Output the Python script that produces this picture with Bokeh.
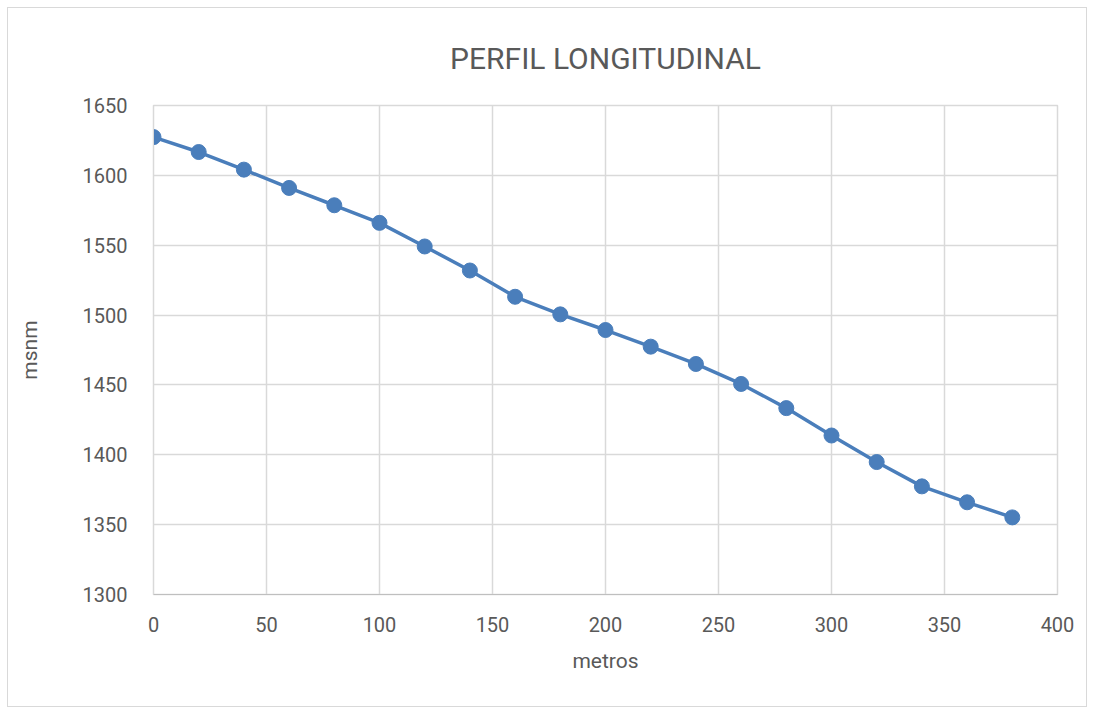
from bokeh.plotting import figure
from bokeh.embed import file_html
from bokeh.resources import INLINE
from bokeh.models import Range1d, FixedTicker, Title

distancia = [0, 20, 40, 60, 80, 100, 120, 140, 160, 180, 200, 220, 240, 260, 280, 300, 320, 340, 360, 380]
msnm = [1627.4, 1616.7, 1604.1, 1591.0, 1578.6, 1566.0, 1549.1, 1531.9, 1513.1, 1500.5,
        1489.3, 1477.4, 1465.0, 1450.7, 1433.4, 1413.8, 1394.8, 1377.4, 1366.0, 1355.2]
x_ticks = [0, 50, 100, 150, 200, 250, 300, 350, 400]
y_ticks = [1300, 1350, 1400, 1450, 1500, 1550, 1600, 1650]

FONT = "Roboto"
TXT = "#595959"

p = figure(width=1080, height=700, output_backend="svg", toolbar_location=None,
           x_range=Range1d(0, 400), y_range=Range1d(1300, 1650),
           min_border_left=145, min_border_right=31, min_border_top=97, min_border_bottom=114)

p.styles = {"border": "1px solid #d9d9d9", "margin": "7px 0 0 7px"}

t = Title(text="PERFIL LONGITUDINAL", align="center", text_font=FONT, text_font_size="30px",
          text_font_style="normal", text_color=TXT, standoff=60)
p.add_layout(t, "above")

p.xaxis.ticker = FixedTicker(ticks=x_ticks)
p.yaxis.ticker = FixedTicker(ticks=y_ticks)
for ax in (p.xaxis[0], p.yaxis[0]):
    ax.major_tick_line_color = None
    ax.minor_tick_line_color = None
    ax.major_label_text_font = FONT
    ax.major_label_text_font_size = "20px"
    ax.major_label_text_color = TXT
    ax.axis_label_text_font = FONT
    ax.axis_label_text_font_size = "21px"
    ax.axis_label_text_font_style = "normal"
    ax.axis_label_text_color = TXT
p.xaxis.axis_line_color = "#bfbfbf"
p.yaxis.axis_line_color = "#d9d9d9"
p.xaxis.major_label_standoff = 16
p.yaxis.major_label_standoff = 20
p.xaxis.axis_label = "metros"
p.yaxis.axis_label = "msnm"
p.xaxis.axis_label_standoff = 14
p.yaxis.axis_label_standoff = 38

p.xgrid.grid_line_color = "#d9d9d9"
p.ygrid.grid_line_color = "#d9d9d9"
p.xgrid.grid_line_width = 1.5
p.ygrid.grid_line_width = 1.5
p.outline_line_color = "#d9d9d9"
p.outline_line_width = 1.5

p.line(distancia, msnm, line_color="#4a7ebb", line_width=3.5)
p.scatter(distancia, msnm, size=15, fill_color="#4a7ebb", line_color="#4a7ebb")

open("out.html", "w").write(file_html(p, INLINE))
